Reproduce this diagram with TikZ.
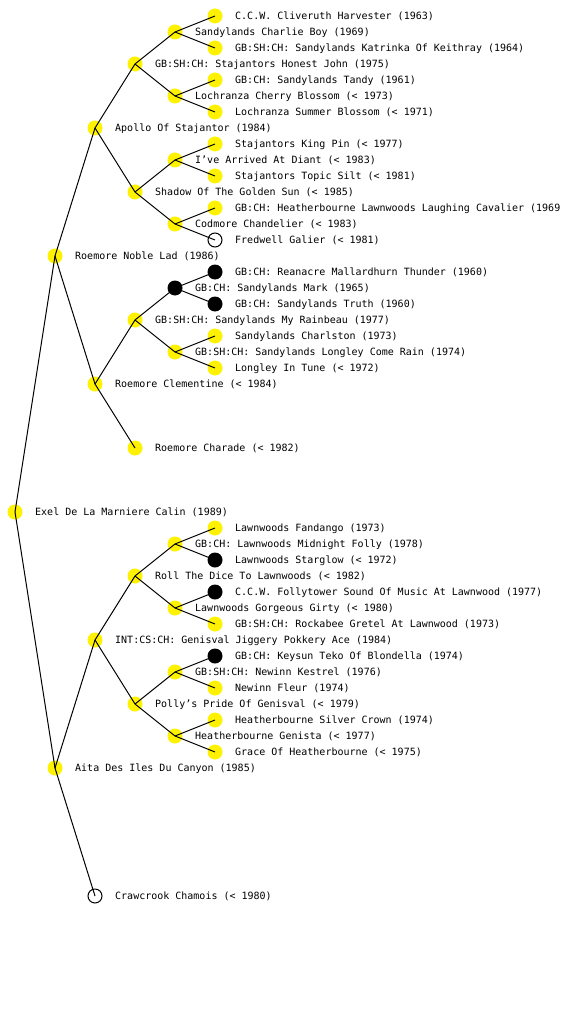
\documentclass[tikz,border=0pt]{standalone}
\usepackage{fontspec}
\setmonofont{DejaVu Sans Mono}
\newcommand\mydog[4]{\node[#3] (n#1) at (#2,#1) {}; \node[lbl] (t#1) at ([xshift=20pt,yshift=-3.6pt]n#1.center) {#4};}
\tikzset{
  dogc/.style={circle, inner sep=0pt, minimum size=15pt},
  yel/.style={dogc, fill=yellow},
  blk/.style={dogc, fill=black},
  wht/.style={dogc, fill=white, draw=black, line width=1pt, minimum size=14pt},
  lbl/.style={anchor=base west, inner sep=0pt, font=\ttfamily\fontsize{10}{12}\selectfont},
  edge/.style={draw=black, line width=1pt}
}
\begin{document}
\begin{tikzpicture}[x=1pt,y=-1pt]
\useasboundingbox (0,0) rectangle (560,1024);
\clip (0,0) rectangle (560,1024);
\fill[white] (0,0) rectangle (560,1024);
\mydog{16}{215}{yel}{C.C.W. Cliveruth Harvester (1963)}
\mydog{32}{175}{yel}{Sandylands Charlie Boy (1969)}
\mydog{48}{215}{yel}{GB:SH:CH: Sandylands Katrinka Of Keithray (1964)}
\mydog{64}{135}{yel}{GB:SH:CH: Stajantors Honest John (1975)}
\mydog{80}{215}{yel}{GB:CH: Sandylands Tandy (1961)}
\mydog{96}{175}{yel}{Lochranza Cherry Blossom (< 1973)}
\mydog{112}{215}{yel}{Lochranza Summer Blossom (< 1971)}
\mydog{128}{95}{yel}{Apollo Of Stajantor (1984)}
\mydog{144}{215}{yel}{Stajantors King Pin (< 1977)}
\mydog{160}{175}{yel}{I’ve Arrived At Diant (< 1983)}
\mydog{176}{215}{yel}{Stajantors Topic Silt (< 1981)}
\mydog{192}{135}{yel}{Shadow Of The Golden Sun (< 1985)}
\mydog{208}{215}{yel}{GB:CH: Heatherbourne Lawnwoods Laughing Cavalier (1969)}
\mydog{224}{175}{yel}{Codmore Chandelier (< 1983)}
\mydog{240}{215}{wht}{Fredwell Galier (< 1981)}
\mydog{256}{55}{yel}{Roemore Noble Lad (1986)}
\mydog{272}{215}{blk}{GB:CH: Reanacre Mallardhurn Thunder (1960)}
\mydog{288}{175}{blk}{GB:CH: Sandylands Mark (1965)}
\mydog{304}{215}{blk}{GB:CH: Sandylands Truth (1960)}
\mydog{320}{135}{yel}{GB:SH:CH: Sandylands My Rainbeau (1977)}
\mydog{336}{215}{yel}{Sandylands Charlston (1973)}
\mydog{352}{175}{yel}{GB:SH:CH: Sandylands Longley Come Rain (1974)}
\mydog{368}{215}{yel}{Longley In Tune (< 1972)}
\mydog{384}{95}{yel}{Roemore Clementine (< 1984)}
\mydog{448}{135}{yel}{Roemore Charade (< 1982)}
\mydog{512}{15}{yel}{Exel De La Marniere Calin (1989)}
\mydog{528}{215}{yel}{Lawnwoods Fandango (1973)}
\mydog{544}{175}{yel}{GB:CH: Lawnwoods Midnight Folly (1978)}
\mydog{560}{215}{blk}{Lawnwoods Starglow (< 1972)}
\mydog{576}{135}{yel}{Roll The Dice To Lawnwoods (< 1982)}
\mydog{592}{215}{blk}{C.C.W. Follytower Sound Of Music At Lawnwood (1977)}
\mydog{608}{175}{yel}{Lawnwoods Gorgeous Girty (< 1980)}
\mydog{624}{215}{yel}{GB:SH:CH: Rockabee Gretel At Lawnwood (1973)}
\mydog{640}{95}{yel}{INT:CS:CH: Genisval Jiggery Pokkery Ace (1984)}
\mydog{656}{215}{blk}{GB:CH: Keysun Teko Of Blondella (1974)}
\mydog{672}{175}{yel}{GB:SH:CH: Newinn Kestrel (1976)}
\mydog{688}{215}{yel}{Newinn Fleur (1974)}
\mydog{704}{135}{yel}{Polly’s Pride Of Genisval (< 1979)}
\mydog{720}{215}{yel}{Heatherbourne Silver Crown (1974)}
\mydog{736}{175}{yel}{Heatherbourne Genista (< 1977)}
\mydog{752}{215}{yel}{Grace Of Heatherbourne (< 1975)}
\mydog{768}{55}{yel}{Aita Des Iles Du Canyon (1985)}
\mydog{896}{95}{wht}{Crawcrook Chamois (< 1980)}
\foreach \a/\b in {512/256,512/768,256/128,256/384,128/64,128/192,64/32,64/96,32/16,32/48,96/80,96/112,192/160,192/224,160/144,160/176,224/208,224/240,384/320,384/448,320/288,320/352,288/272,288/304,352/336,352/368,768/640,768/896,640/576,640/704,576/544,576/608,544/528,544/560,608/592,608/624,704/672,704/736,672/656,672/688,736/720,736/752}
  \draw[edge] (n\a.center) -- (n\b.center);
\end{tikzpicture}
\end{document}
